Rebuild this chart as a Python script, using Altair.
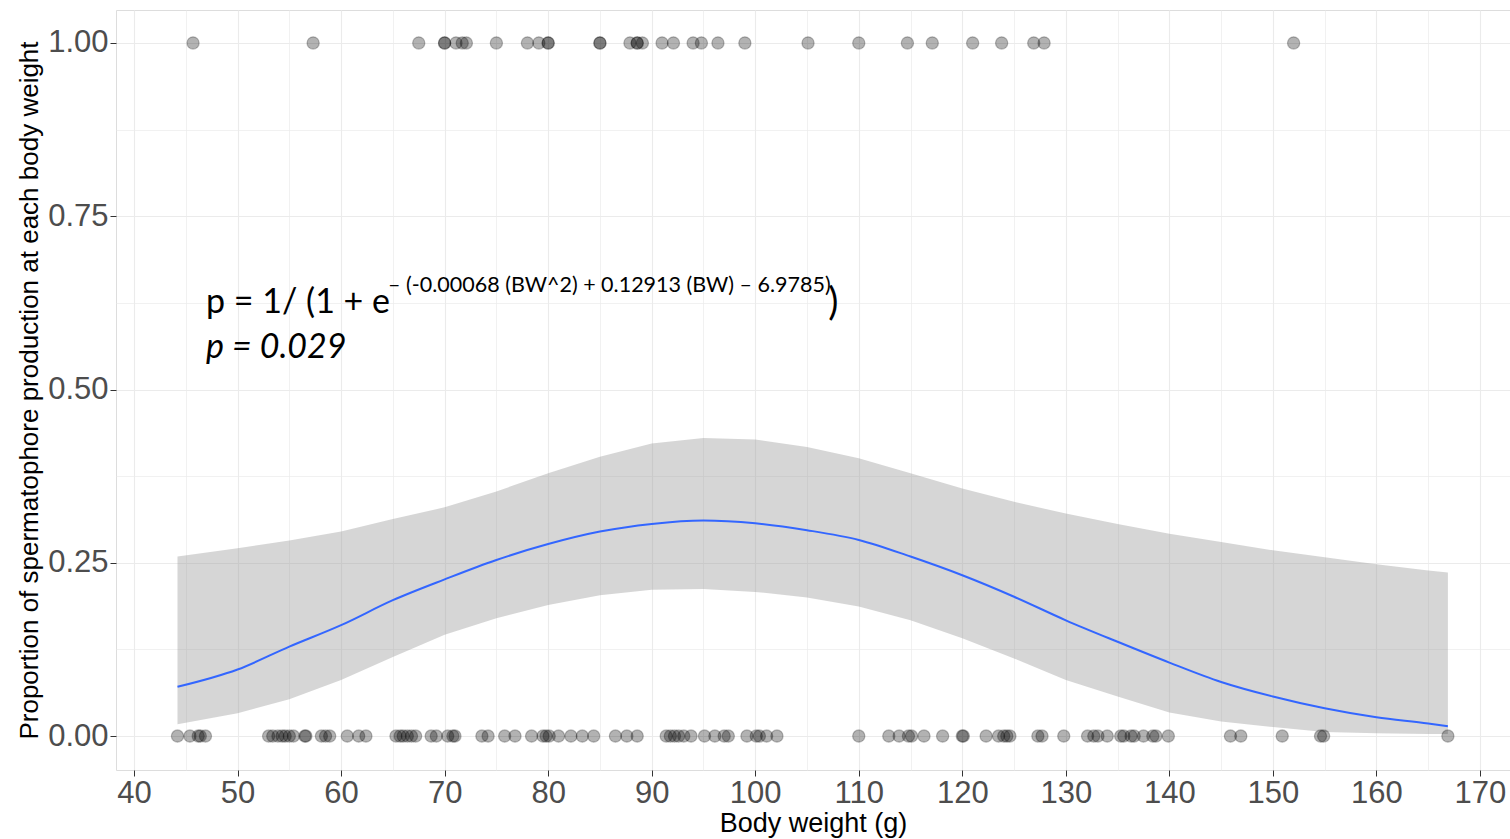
import altair as alt
import pandas as pd

# ---- data ----
top_bw = [45.7, 57.3, 67.5, 70.0, 70.0, 71.1, 71.7, 72.1, 75.0, 78.0, 79.1, 80.0, 80.0,
          85.0, 85.0, 87.9, 88.6, 88.6, 89.1, 91.0, 92.1, 94.0, 94.8, 96.4, 99.0, 105.1,
          110.0, 114.7, 117.1, 121.0, 123.8, 126.9, 127.9, 152.0]
bottom_bw = [44.2, 45.4, 46.2, 46.4, 46.9,
             53.0, 53.4, 53.9, 54.3, 54.6, 55.0, 55.4, 56.5, 56.6,
             58.1, 58.5, 58.9, 60.6, 61.7, 62.4,
             65.3, 65.7, 66.0, 66.4, 66.8, 67.2, 68.7, 69.2,
             70.3, 70.8, 71.0, 73.6, 74.2, 75.8, 76.8,
             78.4, 79.5, 79.8, 80.1, 81.0, 82.2, 83.3, 84.4,
             86.5, 87.6, 88.6, 91.4, 91.8, 92.2, 92.6, 93.1,
             93.8, 95.1, 96.1, 97.0, 97.4, 99.2, 100.1, 100.4, 101.1, 102.1,
             110.0, 112.9, 113.9, 114.8, 115.1, 116.3, 118.1, 120.0, 120.1,
             122.3, 123.5, 124.0, 124.3, 124.6, 127.3, 127.7, 129.8,
             132.1, 132.7, 133.1, 134.0, 135.3, 135.6, 136.3, 136.6, 137.5, 138.4, 138.7, 139.9,
             145.9, 146.9, 150.9, 154.6, 154.9, 166.9]

fit_bw = [44.2, 50, 55, 60, 65, 70, 75, 80, 85, 90, 95, 100, 105, 110, 115, 120, 125,
          130, 135, 140, 145, 150, 155, 160, 165, 166.9]
fit_p = [0.071, 0.096, 0.129, 0.160, 0.196, 0.226, 0.254, 0.277, 0.295, 0.306, 0.311, 0.307,
         0.297, 0.283, 0.259, 0.232, 0.201, 0.167, 0.136, 0.106, 0.078, 0.057, 0.040, 0.027,
         0.018, 0.014]
fit_upper = [0.259, 0.271, 0.282, 0.295, 0.313, 0.330, 0.353, 0.379, 0.403, 0.422, 0.430, 0.428,
             0.417, 0.401, 0.379, 0.357, 0.338, 0.321, 0.306, 0.292, 0.280, 0.268, 0.258, 0.248,
             0.239, 0.236]
fit_lower = [0.017, 0.033, 0.053, 0.081, 0.114, 0.146, 0.170, 0.189, 0.203, 0.211, 0.212, 0.208,
             0.200, 0.187, 0.167, 0.141, 0.112, 0.081, 0.057, 0.034, 0.021, 0.013, 0.006, 0.004,
             0.003, 0.003]

x_ticks = list(range(40, 175, 5))
y_ticks = [0, 0.125, 0.25, 0.375, 0.5, 0.625, 0.75, 0.875, 1.0]

eq_main = "p = 1/ (1 + e"
eq_exp = "\u2013 (-0.00068 (BW^2) + 0.12913 (BW) \u2013 6.9785)"
eq_close = ")"
eq_p = "p = 0.029"

x_title = "Body weight (g)"
y_title = "Proportion of spermatophore production at each body weight"

# ---- tables ----
pts = pd.DataFrame({
    "bw": top_bw + bottom_bw,
    "prop": [1.0] * len(top_bw) + [0.0] * len(bottom_bw),
})
fit = pd.DataFrame({"bw": fit_bw, "p": fit_p, "lo": fit_lower, "hi": fit_upper})

xscale = alt.Scale(domain=[38.26, 172.9], nice=False, zero=False)
yscale = alt.Scale(domain=[-0.049, 1.0476], nice=False, zero=False)

label_color = "#4D4D4D"

x_axis = alt.Axis(
    values=x_ticks,
    labelExpr="datum.value % 10 == 0 ? datum.label : ''",
    tickOpacity={"condition": {"test": "datum.value % 10 != 0", "value": 0}, "value": 1},
    gridWidth={"condition": {"test": "datum.value % 10 != 0", "value": 0.7}, "value": 1.1},
    title=x_title, titleFontSize=27, titleColor="black", titleFontWeight="normal",
    titleFont="Liberation Sans", titlePadding=2,
    labelFontSize=31, labelColor=label_color, labelFont="Liberation Sans",
    labelOverlap=False, labelFlush=False, labelPadding=2,
    tickColor="#333333", tickSize=6, domain=False,
    gridColor="#EBEBEB",
)
y_axis = alt.Axis(
    values=y_ticks,
    labelExpr="(datum.value * 4) % 1 == 0 ? format(datum.value, '.2f') : ''",
    tickOpacity={"condition": {"test": "(datum.value * 4) % 1 != 0", "value": 0}, "value": 1},
    gridWidth={"condition": {"test": "(datum.value * 4) % 1 != 0", "value": 0.7}, "value": 1.1},
    title=y_title, titleFontSize=26, titleColor="black", titleFontWeight="normal",
    titleFont="Liberation Sans", titlePadding=5,
    labelFontSize=31, labelColor=label_color, labelFont="Liberation Sans",
    labelOverlap=False, labelFlush=False, labelPadding=2,
    tickColor="#333333", tickSize=6, domain=False,
    gridColor="#EBEBEB",
)

band = alt.Chart(fit).mark_area(color="#999999", opacity=0.4).encode(
    x=alt.X("bw:Q", scale=xscale, axis=x_axis),
    y=alt.Y("lo:Q", scale=yscale, axis=y_axis),
    y2="hi:Q",
)
line = alt.Chart(fit).mark_line(color="#3366FF", strokeWidth=2, interpolate="monotone").encode(
    x=alt.X("bw:Q", scale=xscale),
    y=alt.Y("p:Q", scale=yscale),
)
points = alt.Chart(pts).mark_point(
    filled=True, shape="circle", size=150,
    fill="black", fillOpacity=0.3,
    stroke="black", strokeOpacity=0.25, strokeWidth=1.2,
).encode(
    x=alt.X("bw:Q", scale=xscale),
    y=alt.Y("prop:Q", scale=yscale),
)

def text_layer(txt, xv, yv, size, style="normal"):
    df = pd.DataFrame({"bw": [xv], "prop": [yv], "t": [txt]})
    return alt.Chart(df).mark_text(
        align="left", baseline="alphabetic", fontSize=size, font="Lato",
        fontStyle=style, color="black",
    ).encode(
        x=alt.X("bw:Q", scale=xscale),
        y=alt.Y("prop:Q", scale=yscale),
        text="t:N",
    )

t1 = text_layer(eq_main, 46.96, 0.6104, 34)
t2 = text_layer(eq_exp, 64.54, 0.6407, 21.5)
t3 = text_layer(eq_close, 107.05, 0.6075, 38)
t4 = text_layer(eq_p, 46.96, 0.5455, 34, "italic")

chart = alt.layer(band, line, points, t1, t2, t3, t4).properties(
    width=1394, height=760,
    padding={"left": 116, "top": 10, "right": 0, "bottom": 69},
    autosize=alt.AutoSizeParams(type="none"),
).configure_view(stroke="#333333", strokeWidth=1.2).configure(background="white")

chart.save("out.html", embed_options={"renderer": "svg", "actions": False})
